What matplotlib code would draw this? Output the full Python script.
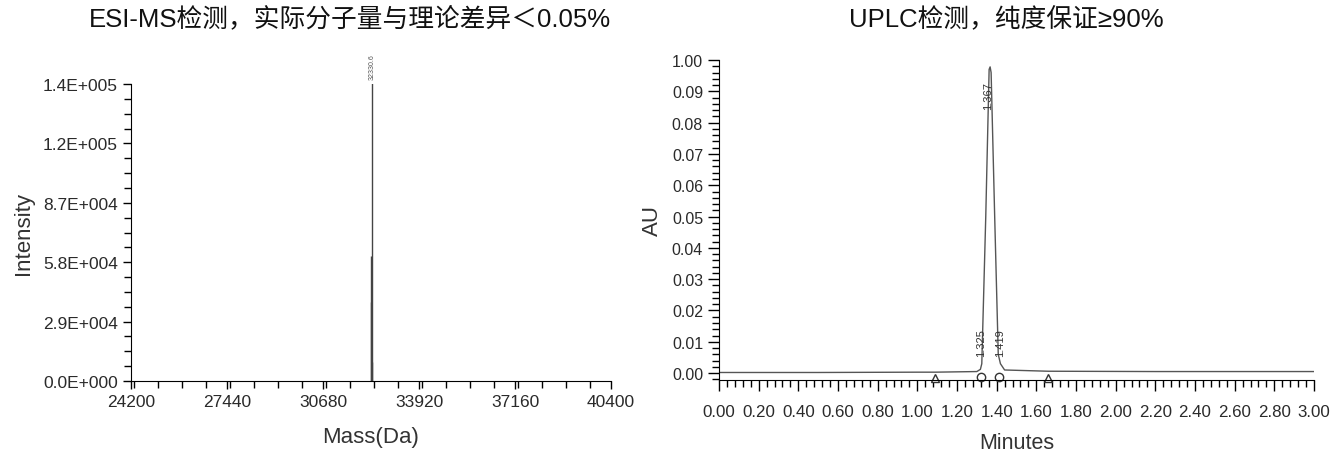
import matplotlib.pyplot as plt
from matplotlib.ticker import MultipleLocator

plt.rcParams['font.family'] = ['Liberation Sans', 'Noto Sans CJK SC', 'DejaVu Sans']

# ESI-MS spectrum (stick peaks)
ms_mass = [32290.0, 32300.0, 32330.6, 32350.0]
ms_intensity = [38600, 61000, 146000, 9300]
ms_peak_label = '32330.6'
ms_yticks = [0, 29000, 58000, 87000, 116000, 145000]
ms_ylabels = ['0.0E+000', '2.9E+004', '5.8E+004', '8.7E+004', '1.2E+005', '1.4E+005']
ms_xticks = [24200, 27440, 30680, 33920, 37160, 40400]

# UPLC chromatogram
lc_time = [0.0, 0.50, 1.00, 1.09, 1.30, 1.318, 1.325, 1.345, 1.362, 1.367,
           1.372, 1.390, 1.408, 1.419, 1.440, 1.66, 2.20, 3.00]
lc_au = [0.0002, 0.0002, 0.0003, 0.0003, 0.0005, 0.0012, 0.0030, 0.0500, 0.0970, 0.0978,
         0.0960, 0.0500, 0.0060, 0.0030, 0.0010, 0.0006, 0.0005, 0.0005]
lc_yticks = [0.00, 0.01, 0.02, 0.03, 0.04, 0.05, 0.06, 0.07, 0.08, 0.09, 0.10]
lc_ylabels = ['0.00', '0.01', '0.02', '0.03', '0.04', '0.05', '0.06', '0.07', '0.08', '0.09', '1.00']
lc_xticks = [0.0, 0.2, 0.4, 0.6, 0.8, 1.0, 1.2, 1.4, 1.6, 1.8, 2.0, 2.2, 2.4, 2.6, 2.8, 3.0]
lc_tri_times = [1.089, 1.659]
lc_circ_times = [1.321, 1.412]
lc_peak_times = ['1.325', '1.367', '1.419']

tick_color = '#2a2a2a'

fig = plt.figure(figsize=(13.44, 4.52), dpi=100)

# ---- left: ESI-MS
ax1 = fig.add_axes([131 / 1344, 70 / 452, 480 / 1344, 297 / 452])
ax1.vlines(ms_mass, 0, ms_intensity, colors='#444444', linewidth=1.0)
ax1.text(ms_mass[2], 147500, ms_peak_label, rotation=90, fontsize=5,
         ha='center', va='bottom', color='#555555')
ax1.set_xlim(24200, 40400)
ax1.set_ylim(0, 145000)
ax1.set_xticks(ms_xticks)
ax1.set_xticklabels([str(v) for v in ms_xticks])
ax1.xaxis.set_minor_locator(MultipleLocator(810))
ax1.set_yticks(ms_yticks)
ax1.set_yticklabels(ms_ylabels)
ax1.yaxis.set_minor_locator(MultipleLocator(7250))
ax1.set_xlabel('Mass(Da)', fontsize=16, color='#333333', labelpad=12)
ax1.set_ylabel('Intensity', fontsize=16, color='#333333', labelpad=6)
for s in ['top', 'right']:
    ax1.spines[s].set_visible(False)
ax1.tick_params(which='major', length=6, width=1, labelsize=12.5, labelcolor=tick_color)
ax1.tick_params(which='minor', length=5, width=1)

# ---- right: UPLC
ax2 = fig.add_axes([719 / 1344, 71 / 452, 595 / 1344, 320 / 452])
ax2.plot(lc_time, lc_au, color='#555555', linewidth=1.0)
ax2.plot(lc_tri_times, [-0.0016] * 2, linestyle='none', marker='^', markersize=6,
         markerfacecolor='white', markeredgecolor='#333333', clip_on=False)
ax2.plot(lc_circ_times, [-0.0013] * 2, linestyle='none', marker='o', markersize=6,
         markerfacecolor='white', markeredgecolor='#333333', clip_on=False)
ax2.text(1.357, 0.0889, lc_peak_times[1], rotation=90, fontsize=8, ha='center', va='center',
         color='#333333')
ax2.text(1.319, 0.0098, lc_peak_times[0], rotation=90, fontsize=8, ha='center', va='center',
         color='#333333')
ax2.text(1.418, 0.0098, lc_peak_times[2], rotation=90, fontsize=8, ha='center', va='center',
         color='#333333')
ax2.set_xlim(0, 3.0)
ax2.set_ylim(-0.0022, 0.1)
ax2.set_xticks(lc_xticks)
ax2.set_xticklabels(['%.2f' % v for v in lc_xticks])
ax2.xaxis.set_minor_locator(MultipleLocator(0.04))
ax2.set_yticks(lc_yticks)
ax2.set_yticklabels(lc_ylabels)
ax2.yaxis.set_minor_locator(MultipleLocator(0.002))
ax2.set_xlabel('Minutes', fontsize=15.5, color='#333333', labelpad=10)
ax2.set_ylabel('AU', fontsize=16, color='#333333', labelpad=6)
for s in ['top', 'right']:
    ax2.spines[s].set_visible(False)
ax2.tick_params(which='major', length=8, width=1, labelcolor=tick_color)
ax2.tick_params(axis='y', which='major', labelsize=11.5)
ax2.tick_params(axis='x', which='major', labelsize=12.2, pad=9)
ax2.tick_params(which='minor', length=5, width=1)

# titles
fig.text(350 / 1344, 1 - 20 / 452, 'ESI-MS检测，实际分子量与理论差异＜0.05%', fontsize=18.5,
         ha='center', va='center', color='#111111')
fig.text(1006 / 1344, 1 - 20 / 452, 'UPLC检测，纯度保证≥90%', fontsize=18.5,
         ha='center', va='center', color='#111111')

fig.savefig('out.png', dpi=100)
